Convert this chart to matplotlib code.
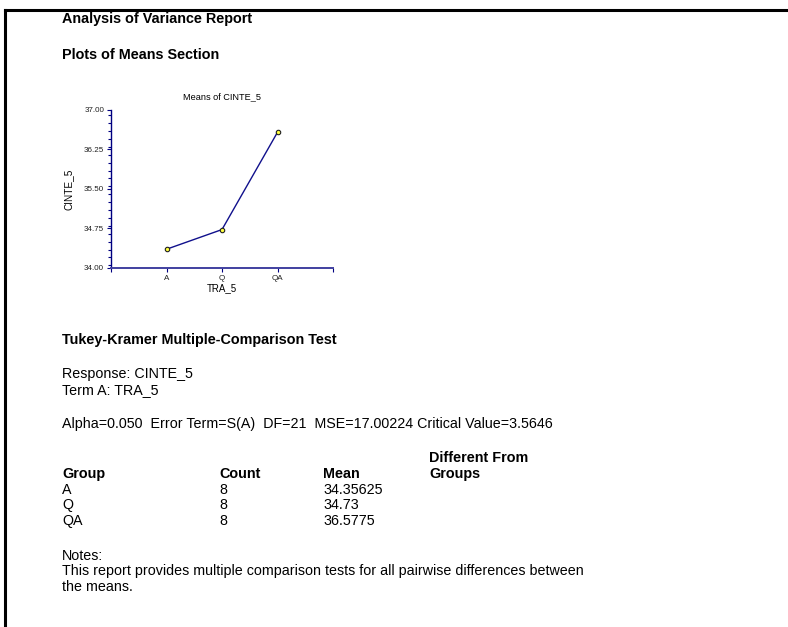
import matplotlib
matplotlib.use("Agg")
import matplotlib.pyplot as plt
from matplotlib.ticker import MultipleLocator, FixedLocator

plt.rcParams['font.family'] = ['Liberation Sans', 'DejaVu Sans']

# report data
groups = ['A', 'Q', 'QA']
counts = [8, 8, 8]
means = [34.35625, 34.73, 36.5775]
mean_labels = ['34.35625', '34.73', '36.5775']
y_ticks = [34.00, 34.75, 35.50, 36.25, 37.00]

W, H = 788, 627
fig = plt.figure(figsize=(W / 100, H / 100), dpi=100)


def px(x, y):
    return x / W, 1 - y / H


def txt(x, y, s, bold=False, **kw):
    size = 10.4 if bold else 10.3
    fig.text(*px(x, y), s, fontsize=size, fontweight='bold' if bold else 'normal',
             va='center', ha='left', **kw)


# page frame (top and left edges)
fig.add_artist(plt.Line2D([5 / W, 1], [1 - 10 / H, 1 - 10 / H], color='black', lw=2.2))
fig.add_artist(plt.Line2D([5 / W, 5 / W], [0, 1 - 10 / H], color='black', lw=2.2))

txt(62, 19, 'Analysis of Variance Report', bold=True)
txt(62, 55, 'Plots of Means Section', bold=True)

# means plot
navy = '#000080'
ax = fig.add_axes([111 / W, 1 - 268 / H, 222 / W, 158 / H])
xpos = [1, 2, 3]
ax.plot(xpos, means, color='#10108c', lw=1, marker='o', ms=3.2,
        mfc='#ffff40', mec='#202020', mew=0.8)
ax.set_xlim(0, 4)
ax.set_ylim(34.0, 37.0)
ax.set_yticks(y_ticks)
ax.set_yticklabels([f'{v:.2f}' for v in y_ticks])
ax.yaxis.set_minor_locator(MultipleLocator(0.15))
ax.xaxis.set_major_locator(FixedLocator([0, 1, 2, 3, 4]))
ax.set_xticklabels([''] + groups + [''])
for s in ['top', 'right']:
    ax.spines[s].set_visible(False)
ax.spines['left'].set_color(navy)
ax.spines['left'].set_linewidth(1)
ax.spines['bottom'].set_linewidth(1.4)
ax.spines['bottom'].set_color('#4040a0')
ax.tick_params(axis='both', which='major', length=3, width=0.8, color=navy,
               labelsize=5.8, pad=2, labelcolor='#202020')
ax.tick_params(axis='y', which='minor', length=2, width=0.8, color=navy)
ax.set_xlabel('TRA_5', fontsize=7, labelpad=1)
ax.set_ylabel('CINTE_5', fontsize=7.2, labelpad=7)
ax.set_title('Means of CINTE_5', fontsize=6.6, pad=8)

# Tukey-Kramer section
txt(62, 340, 'Tukey-Kramer Multiple-Comparison Test', bold=True)
txt(62, 374, 'Response: CINTE_5')
txt(62, 390, 'Term A: TRA_5')
txt(62, 424, 'Alpha=0.050  Error Term=S(A)  DF=21  MSE=17.00224 Critical Value=3.5646')

txt(429, 458, 'Different From', bold=True)
txt(62, 474, 'Group', bold=True)
txt(219, 474, 'Count', bold=True)
txt(323, 474, 'Mean', bold=True)
txt(429, 474, 'Groups', bold=True)
for i, (g, c, m) in enumerate(zip(groups, counts, mean_labels)):
    y = 490 + i * 15.3
    txt(62, y, g)
    txt(219, y, str(c))
    txt(323, y, m)

txt(62, 556, 'Notes:')
txt(62, 571, 'This report provides multiple comparison tests for all pairwise differences between')
txt(62, 587, 'the means.')

fig.savefig('out.png', dpi=100)
